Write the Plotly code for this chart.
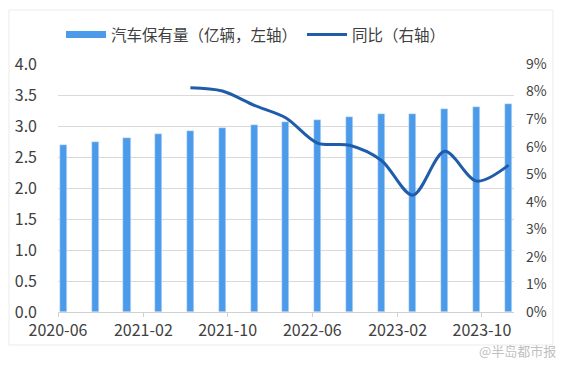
import plotly.graph_objects as go

dates = ["2020-06", "2020-09", "2020-12", "2021-03", "2021-06", "2021-09", "2021-12",
         "2022-03", "2022-06", "2022-09", "2022-12", "2023-03", "2023-06", "2023-09", "2023-12"]
stock = [2.70, 2.75, 2.81, 2.87, 2.92, 2.97, 3.02, 3.07, 3.10, 3.15, 3.19, 3.20, 3.28, 3.30, 3.36]
yoy = [None, None, None, None, 8.14, 8.02, 7.5, 7.05, 6.13, 6.05, 5.5, 4.24, 5.83, 4.75, 5.33]
xtick_labels = ["2020-06", "2021-02", "2021-10", "2022-06", "2023-02", "2023-10"]

BAR_C = "#4C9BEB"
LINE_C = "#1F5DAA"
TXT = "#404040"
FONT = "Noto Sans CJK SC"

# page body has an 8px margin, so figure coords = screen coords - 8
OFF = 8
W, H = 567 - OFF, 367 - OFF
L, T = 58 - OFF, 64 - OFF
PW, PH = 456, 248
R, B = W - L - PW, H - T - PH


def px(x):
    return (x - OFF - L) / PW


def py(y):
    return (T + PH - (y - OFF)) / PH


fig = go.Figure()
fig.add_trace(go.Bar(
    x=dates, y=stock, name="汽车保有量（亿辆，左轴）", marker_color=BAR_C,
    xperiod="M1", xperiodalignment="middle", width=21 * 86400000, showlegend=False,
))
fig.add_trace(go.Scatter(
    x=dates, y=yoy, name="同比（右轴）", yaxis="y2", mode="lines",
    line=dict(color=LINE_C, width=3, shape="spline", smoothing=0.9),
    xperiod="M1", xperiodalignment="middle", showlegend=False,
))
# legend proxies
fig.add_trace(go.Scatter(x=[None], y=[None], mode="lines", name="汽车保有量（亿辆，左轴）",
                         line=dict(color=BAR_C, width=7)))
fig.add_trace(go.Scatter(x=[None], y=[None], mode="lines", name="同比（右轴）",
                         line=dict(color=LINE_C, width=3)))

fig.update_layout(
    width=W, height=H,
    margin=dict(l=L, r=R, t=T, b=B, autoexpand=False),
    paper_bgcolor="white", plot_bgcolor="white",
    font=dict(family=FONT, color=TXT, size=14),
    bargap=0,
    legend=dict(orientation="h", x=px(61), y=py(35), xanchor="left", yanchor="middle",
                font=dict(size=15.5, color=TXT), itemwidth=40, traceorder="normal",
                bgcolor="rgba(0,0,0,0)"),
    xaxis=dict(type="date", range=["2020-06-01", "2024-01-01"],
               tickmode="array",
               tickvals=[d + "-01" for d in xtick_labels], ticktext=xtick_labels,
               ticks="outside", ticklen=4, tickcolor="#D0D0D0",
               showline=True, linecolor="#D0D0D0", linewidth=1,
               showgrid=False, tickfont=dict(size=16, color=TXT)),
    yaxis=dict(range=[0, 4.0], dtick=0.5, tickformat=".1f", showgrid=True,
               gridcolor="#D9D9D9", gridwidth=1, zeroline=False,
               tickfont=dict(size=16, color=TXT), ticks="", ticklabelstandoff=20),
    yaxis2=dict(range=[0, 9], dtick=1, overlaying="y", side="right", showgrid=False,
                zeroline=False, ticksuffix="%", tickfont=dict(size=14, color=TXT),
                ticklabelstandoff=11),
    shapes=[dict(type="rect", xref="paper", yref="paper",
                 x0=px(9), x1=px(553), y0=py(345), y1=py(10),
                 line=dict(color="#EBEBEB", width=1), layer="below")],
    annotations=[dict(text="@半岛都市报", xref="paper", yref="paper",
                      x=px(558), y=py(350), xanchor="right", yanchor="middle",
                      showarrow=False, font=dict(size=13, color="#C0C0C0"))],
)

fig.write_html("out.html")
